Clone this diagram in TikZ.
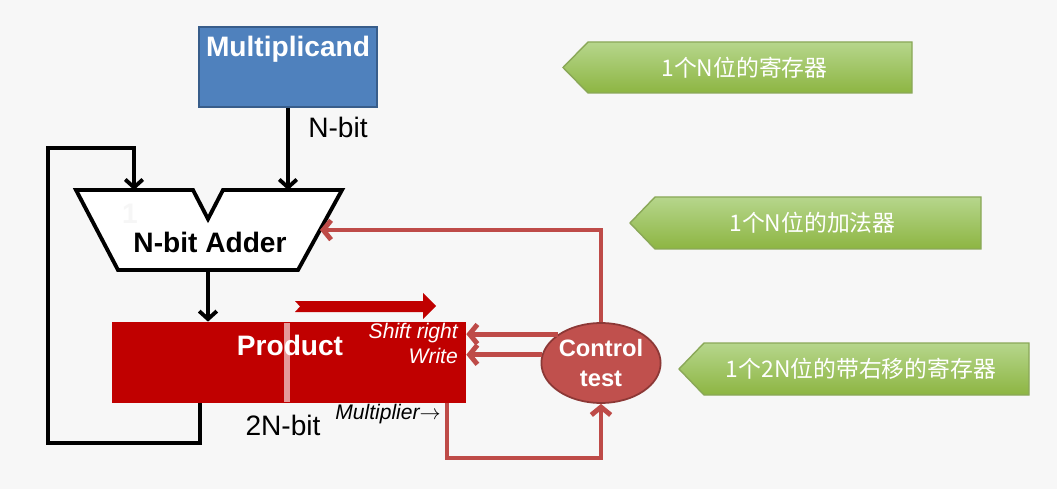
\documentclass[tikz,border=0pt]{standalone}
\usepackage{fontspec}
\setmainfont{Liberation Sans}
\newfontfamily\cjk{Noto Sans CJK SC}
\usetikzlibrary{arrows.meta,shapes.geometric}
\definecolor{bgGray}{HTML}{F7F7F7}
\definecolor{mcBlue}{HTML}{4F81BD}
\definecolor{mcEdge}{HTML}{385D8A}
\definecolor{prodRed}{HTML}{C00000}
\definecolor{ctlRed}{HTML}{C0504D}
\definecolor{ctlEdge}{HTML}{8C3836}
\definecolor{wireRed}{HTML}{BE4B48}
\definecolor{grTop}{HTML}{B6D68C}
\definecolor{grMid}{HTML}{7B9F38}
\definecolor{grBot}{HTML}{8DB542}
\definecolor{grEdge}{HTML}{8AA858}

\begin{document}
\begin{tikzpicture}[x=0.02cm, y=-0.02cm,
  blkarrow/.style={draw=black, line width=2.2pt, -{Straight Barb[length=4.5pt,width=10pt]}},
  redarrow/.style={draw=wireRed, line width=2.8pt, -{Straight Barb[length=4.5pt,width=11pt]}},
  bigbold/.style={font=\fontsize{16}{19}\selectfont\bfseries},
  bigtext/.style={font=\fontsize{16}{19}\selectfont},
  smallit/.style={font=\fontsize{12}{14}\selectfont\itshape}]
\fill[bgGray] (0,0) rectangle (1057,489);
\useasboundingbox (0,0) rectangle (1057,489);

% registers and adder
\node[draw=mcEdge, line width=1pt, fill=mcBlue, minimum width=3.56cm, minimum height=1.6cm] (mcand) at (288,67) {};
\node[text=white, bigbold] (mcandlbl) at (288,49) {Multiplicand};
\node[bigtext] (nbit) at (338,127) {N-bit};

\draw[black, line width=2.2pt, fill=white] (76,190) -- (193,190) -- (208,219) -- (223,190) -- (342,190) -- (298,270) -- (118,270) -- cycle;
\coordinate (addL) at (134,190);
\coordinate (addR) at (288,190);
\coordinate (addS) at (320,230);
\coordinate (addB) at (208,270);
\node[text=gray!7, bigbold] (one) at (130,214) {1};
\node[bigbold] (adder) at (210,242) {N-bit Adder};

\node[fill=prodRed, minimum width=7.08cm, minimum height=1.62cm, inner sep=0pt] (prod) at (289,362.5) {};
\node[text=white, bigbold] (prodlbl) at (290,345) {Product};
\fill[white, opacity=0.6] (284,323) rectangle (290,402);
\fill[prodRed] (295,301) -- (423,301) -- (423,293) -- (436,306) -- (423,319) -- (423,312) -- (295,312) -- (300,306.5) -- cycle;
\node[text=white, smallit, anchor=east] (shift) at (464,333) {Shift right};
\node[text=white, smallit, anchor=east] (write) at (464,356) {Write};
\node[bigtext] (twonbit) at (283,425) {2N-bit};
\node[smallit] (mplier) at (388,414) {Multiplier$\rightarrow$};
\coordinate (loopS) at (200,403);
\coordinate (mulS) at (447,403);

\node[ellipse, draw=ctlEdge, line width=1pt, fill=ctlRed, minimum width=2.32cm, minimum height=1.6cm, inner sep=0pt,
  align=center, text=white, font=\fontsize{13.5}{17}\selectfont\bfseries] (ctrl) at (601,363) {Control\\test};

% data paths
\draw[blkarrow] (mcand.south) -- (addR);
\draw[blkarrow] (addB) -- (addB |- prod.north);
\draw[blkarrow] (loopS) |- (48,443) |- (134,148) -- (addL);

% control paths
\draw[redarrow] (ctrl.north) |- (addS);
\draw[redarrow] (ctrl.146) -- (prod.east |- ctrl.146);
\draw[redarrow] (ctrl.172) -- (prod.east |- ctrl.172);
\draw[redarrow] (mulS) -- ++(0,55) -| (ctrl.south);

% notes
\foreach \xl/\xr/\yt/\yb/\txt/\nm in {563/912/42/93/{1个N位的寄存器}/regnote,
    630/981/197/249/{1个N位的加法器}/addnote,
    679/1029/343/395/{1个2N位的带右移的寄存器}/prodnote}{
  \shade[top color=grTop, middle color=grMid, bottom color=grBot, draw=grEdge, line width=0.8pt]
    (\xl,{(\yt+\yb)/2}) -- ({\xl+25},\yt) -- (\xr,\yt) -- (\xr,\yb) -- ({\xl+25},\yb) -- cycle;
  \node[text=white, font=\cjk\fontsize{13}{16}\selectfont] (\nm) at ({(\xl+\xr)/2+7},{(\yt+\yb)/2}) {\txt};
}
\end{tikzpicture}
\end{document}
